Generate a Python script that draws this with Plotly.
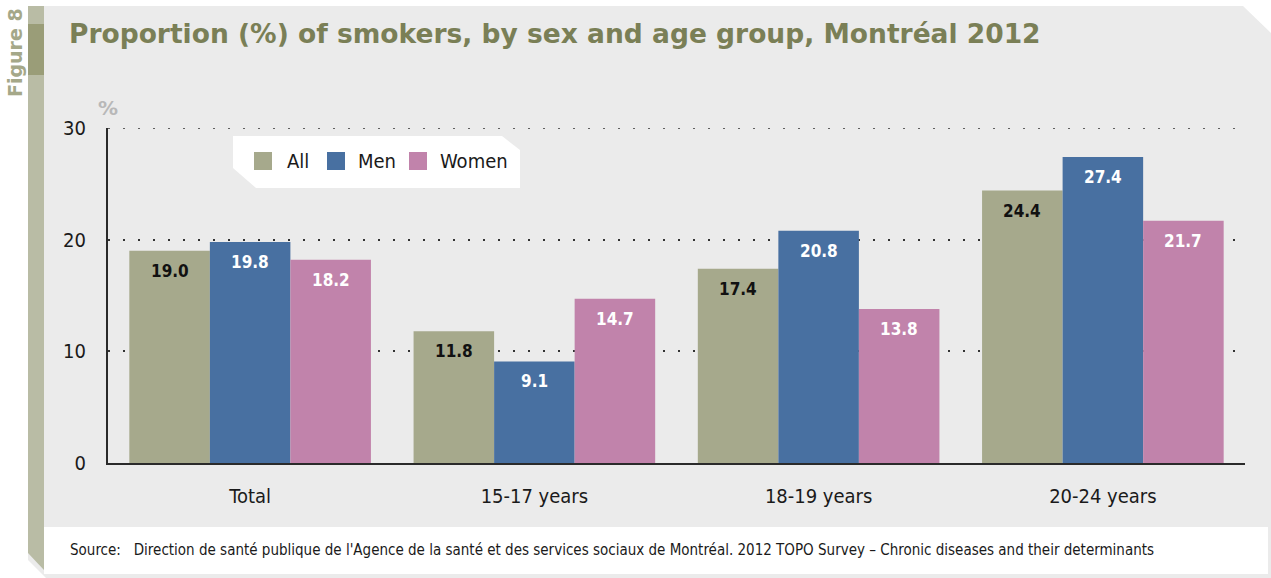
import plotly.graph_objects as go

# ---- data -------------------------------------------------------------
categories = ["Total", "15-17 years", "18-19 years", "20-24 years"]
series_names = ["All", "Men", "Women"]
all_values = [19.0, 11.8, 17.4, 24.4]
men_values = [19.8, 9.1, 20.8, 27.4]
women_values = [18.2, 14.7, 13.8, 21.7]
y_ticks = [0, 10, 20, 30]

title_text = "Proportion (%) of smokers, by sex and age group, Montréal 2012"
source_text = ("Source:\u00a0\u00a0 Direction de santé publique de l'Agence de la santé et des services "
               "sociaux de Montréal. 2012 TOPO Survey – Chronic diseases and their determinants")

# ---- styling ----------------------------------------------------------
colors = ["#a6a98c", "#4870a1", "#c183ab"]
label_colors = ["#111111", "#ffffff", "#ffffff"]
panel_gray = "#ebebeb"
strip_light = "#b9bca5"
strip_dark = "#9a9d78"
title_color = "#7a7f56"
FONT = "DejaVu Sans Condensed, Liberation Sans Narrow, Arial Narrow, sans-serif"

W, H = 1271, 578
L, R, T, B = 108, 26, 128, 115
PW, PH = W - L - R, H - T - B
BARGAP = 0.15


def px(x):
    """pixel x -> paper x"""
    return (x - L) / PW


def py(y):
    """pixel y (from top) -> paper y"""
    return (H - B - y) / PH


def poly(points):
    return "M " + " L ".join(f"{px(x):.5f},{py(y):.5f}" for x, y in points) + " Z"


fig = go.Figure()
values = [all_values, men_values, women_values]
for name, vals, col in zip(series_names, values, colors):
    fig.add_trace(go.Bar(name=name, x=categories, y=vals, marker=dict(color=col, line=dict(width=0)),
                         showlegend=False, hoverinfo="x+y"))

shapes = []
# background panel with clipped top-right corner
shapes.append(dict(type="path", xref="paper", yref="paper", layer="below", line=dict(width=0),
                   fillcolor=panel_gray,
                   path=poly([(44, 6), (1243, 6), (1271, 33), (1271, 578), (46, 578), (28, 560), (28, 6)])))
# white source box
shapes.append(dict(type="rect", xref="paper", yref="paper", layer="below", line=dict(width=0),
                   fillcolor="#ffffff", x0=px(44), x1=px(1268), y0=py(574), y1=py(527)))
# left decorative strip
shapes.append(dict(type="path", xref="paper", yref="paper", layer="below", line=dict(width=0),
                   fillcolor=strip_light,
                   path=poly([(28, 6), (44, 6), (44, 570), (28, 553)])))
shapes.append(dict(type="rect", xref="paper", yref="paper", layer="below", line=dict(width=0),
                   fillcolor=strip_dark, x0=px(28), x1=px(44), y0=py(75), y1=py(24)))
# legend box
shapes.append(dict(type="path", xref="paper", yref="paper", layer="below", line=dict(width=0),
                   fillcolor="#ffffff",
                   path=poly([(233, 136), (502, 136), (520, 150), (520, 188), (256, 188), (233, 168)])))
# dotted guide at the top of the value axis
shapes.append(dict(type="line", xref="paper", yref="y", layer="below", x0=0, x1=1, y0=y_ticks[-1],
                   y1=y_ticks[-1], line=dict(color="#333333", width=1.5, dash="2px,13px")))

annotations = []
# legend swatches and labels
legend_items = [(254, 285), (327, 356), (409, 438)]
for (sx, tx), name, col in zip(legend_items, series_names, colors):
    shapes.append(dict(type="rect", xref="paper", yref="paper", line=dict(width=0), fillcolor=col,
                       x0=px(sx), x1=px(sx + 18), y0=py(170), y1=py(152)))
    annotations.append(dict(xref="paper", yref="paper", x=px(tx), y=py(161), text=name, showarrow=False,
                            xanchor="left", yanchor="middle", font=dict(family=FONT, size=20, color="#1a1a1a")))

# value labels inside the top of each bar
bar_w = (1 - BARGAP) / len(series_names)
for s, (vals, lc) in enumerate(zip(values, label_colors)):
    off = (s - (len(series_names) - 1) / 2) * bar_w
    for i, v in enumerate(vals):
        annotations.append(dict(xref="x", yref="y", x=i + off, y=v, text=f"<b>{v:.1f}</b>", showarrow=False,
                                yanchor="top", yshift=-8, font=dict(family=FONT, size=17, color=lc)))

# title, figure tag, unit and source
annotations.append(dict(xref="paper", yref="paper", x=px(67), y=py(33), text=f"<b>{title_text}</b>",
                        showarrow=False, xanchor="left", yanchor="middle",
                        font=dict(family="DejaVu Sans, sans-serif", size=26.5, color=title_color)))
annotations.append(dict(xref="paper", yref="paper", x=px(15), y=py(53), text="<b>Figure 8</b>",
                        showarrow=False, textangle=-90, xanchor="center", yanchor="middle",
                        font=dict(family="DejaVu Sans, sans-serif", size=19, color="#a5a889")))
annotations.append(dict(xref="paper", yref="paper", x=px(108), y=py(108), text="<b>%</b>",
                        showarrow=False, xanchor="center", yanchor="middle",
                        font=dict(family="DejaVu Sans, sans-serif", size=20, color="#b8b8b8")))
annotations.append(dict(xref="paper", yref="paper", x=px(68), y=py(550), text=source_text,
                        showarrow=False, xanchor="left", yanchor="middle",
                        font=dict(family=FONT, size=15, color="#1a1a1a")))

fig.update_layout(
    width=W, height=H,
    margin=dict(l=L, r=R, t=T, b=B, pad=0),
    paper_bgcolor="#ffffff",
    plot_bgcolor="rgba(0,0,0,0)",
    barmode="group", bargap=BARGAP, bargroupgap=0,
    showlegend=False,
    shapes=shapes,
    annotations=annotations,
    font=dict(family=FONT, size=20, color="#1a1a1a"),
    xaxis=dict(type="category", range=[-0.5, len(categories) - 0.5], showgrid=False,
               showline=True, linecolor="#2a2a2a", linewidth=2, ticks="",
               ticklabelstandoff=14, tickfont=dict(family=FONT, size=20, color="#1a1a1a")),
    yaxis=dict(range=[0, 30], tickvals=y_ticks, showgrid=True, gridcolor="#333333", gridwidth=1.5,
               griddash="2px,13px", zeroline=False, showline=True, linecolor="#2a2a2a", linewidth=2,
               ticks="", ticklabelstandoff=16, tickfont=dict(family=FONT, size=20, color="#1a1a1a")),
)

fig.write_html("out.html")
